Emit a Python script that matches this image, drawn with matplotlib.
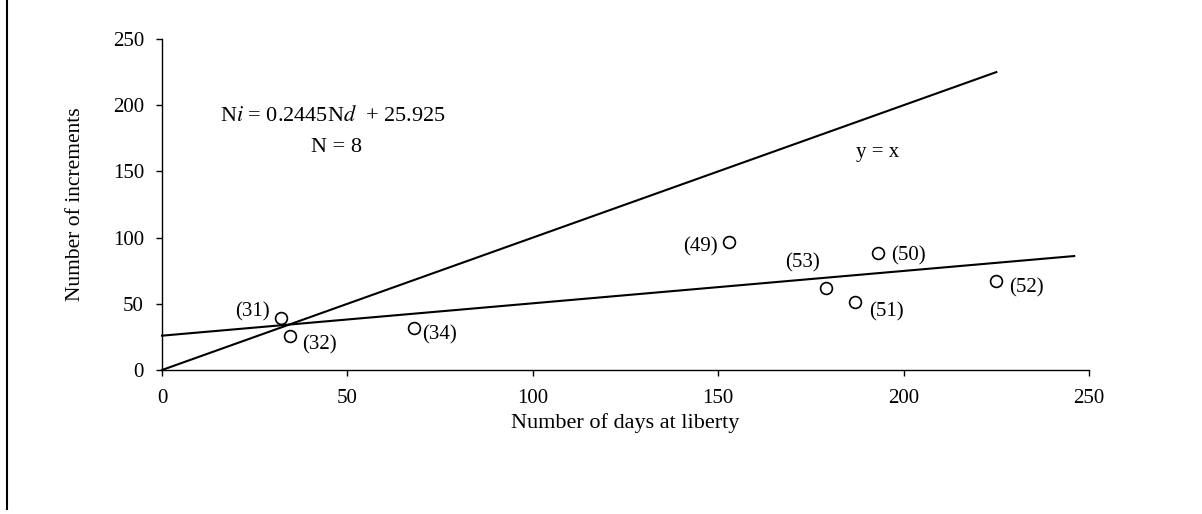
import numpy as np
import matplotlib
matplotlib.use('Agg')
import matplotlib.pyplot as plt
from matplotlib.lines import Line2D

plt.rcParams['font.family'] = 'Liberation Serif'
plt.rcParams['mathtext.fontset'] = 'stix'

# ── Data ──────────────────────────────────────────────────────────────
ids     = ['(31)', '(32)', '(34)', '(49)', '(53)', '(51)', '(50)', '(52)']
days    = [32, 34.5, 68, 153, 179, 187, 193, 225]
incr    = [39, 26, 31.5, 97, 62, 51, 88.5, 67.5]
# label offsets in points (dx, dy) for each id
offs    = [(-20, 5), (21, -7), (18, -5), (-21, -4), (-17, 18), (22, -7), (22, -2), (22, -5)]

slope, icpt = 0.2445, 25.925
fit_x   = [0, 246]
one_x   = [0, 225]
xticks  = [0, 50, 100, 150, 200, 250]
yticks  = [0, 50, 100, 150, 200, 250]

FS = 15

# ── Figure ────────────────────────────────────────────────────────────
fig = plt.figure(figsize=(12.02, 5.14), dpi=100, facecolor='white')
ax  = fig.add_axes([162/1202, 1 - 370/514, (1089-162)/1202, (370-39)/514])

ax.set_xlim(0, 250); ax.set_ylim(0, 250)
for s in ['top', 'right']:
    ax.spines[s].set_visible(False)
for s in ['left', 'bottom']:
    ax.spines[s].set_linewidth(1.0)
ax.set_xticks(xticks); ax.set_yticks(yticks)
ax.tick_params(direction='out', length=4, width=1.0, labelsize=FS)
ax.tick_params(axis='x', pad=10)
ax.tick_params(axis='y', pad=9)

# lines
fx = np.array(fit_x)
ax.plot(fx, slope*fx + icpt, color='black', lw=1.5, clip_on=False)
ax.plot(one_x, one_x, color='black', lw=1.5, clip_on=False)

# points
ax.plot(days, incr, 'o', mfc='white', mec='black', ms=8.5, mew=1.2,
        clip_on=False, zorder=5)
for x, y, t, (dx, dy) in zip(days, incr, ids, offs):
    ax.annotate(t, (x, y), xytext=(dx, dy), textcoords='offset points',
                ha='center', va='center', fontsize=FS)

# text
ax.text(46, 192, r'N$i$ = 0.2445N$d$  + 25.925', ha='center', va='center',
        fontsize=16)
ax.text(47, 168, 'N = 8', ha='center', va='center', fontsize=16)
ax.text(193, 164, 'y = x', ha='center', va='center', fontsize=FS)

ax.set_xlabel('Number of days at liberty', fontsize=16, labelpad=3)
ax.set_ylabel('Number of increments', fontsize=15.5, labelpad=20)

# left frame line of the original page
fig.add_artist(Line2D([7/1202, 7/1202], [0.01, 1.0], color='black', lw=1.5))

plt.savefig('out.png', dpi=100, facecolor='white')
